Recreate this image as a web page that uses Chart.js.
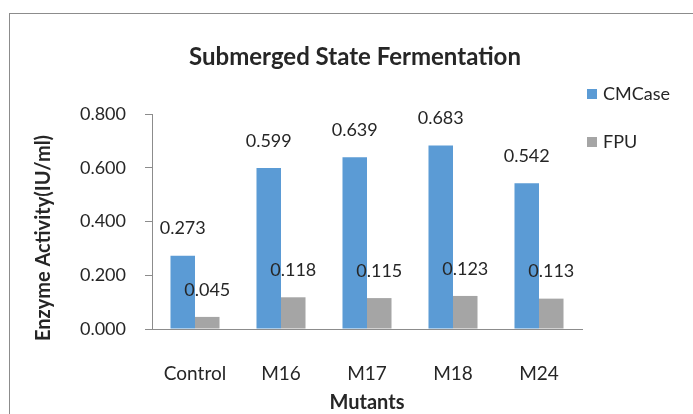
<!DOCTYPE html>
<html>
<head>
<meta charset="utf-8">
<script src="https://cdn.jsdelivr.net/npm/chart.js@4.4.1/dist/chart.umd.min.js"></script>
<style>
  html, body { margin: 0; padding: 0; background: #fff; }
  #wrap { position: relative; width: 693px; height: 414px; overflow: hidden; }
  #frame { position: absolute; left: 9px; top: 13px; width: 700px; height: 420px; border: 1px solid #8c8c8c; box-sizing: border-box; }
  canvas { position: absolute; left: 0; top: 0; }
</style>
</head>
<body>
<div id="wrap">
  <div id="frame"></div>
  <canvas id="chart" width="693" height="414"></canvas>
</div>
<script>
// Chart data
const categories = ['Control', 'M16', 'M17', 'M18', 'M24'];
const cmcase = [0.273, 0.599, 0.639, 0.683, 0.542];
const fpu = [0.045, 0.118, 0.115, 0.123, 0.113];
const yTicks = [0, 0.2, 0.4, 0.6, 0.8];

const FONT = "Lato, 'Open Sans', sans-serif";
const TEXT = '#262626';

// Title, axis titles, legend and value labels
const decorations = {
    id: 'decorations',
    afterDatasetsDraw(chart) {
        const ctx = chart.ctx;
        const area = chart.chartArea;
        ctx.save();
        ctx.fillStyle = TEXT;
        ctx.textAlign = 'center';
        ctx.textBaseline = 'middle';

        // value labels above bars
        ctx.font = '18px ' + FONT;
        chart.data.datasets.forEach((ds, i) => {
            chart.getDatasetMeta(i).data.forEach((bar, j) => {
                ctx.fillText(ds.data[j].toFixed(3), bar.x, bar.y - 27);
            });
        });

        // chart title
        ctx.font = 'bold 24px ' + FONT;
        ctx.fillText('Submerged State Fermentation', 355, 57);

        // x axis title
        ctx.font = 'bold 20px ' + FONT;
        ctx.fillText('Mutants', (area.left + area.right) / 2, 403);

        // y axis title
        ctx.save();
        ctx.translate(44, 238);
        ctx.rotate(-Math.PI / 2);
        ctx.fillText('Enzyme Activity(IU/ml)', 0, 0);
        ctx.restore();

        // legend
        ctx.textAlign = 'left';
        ctx.font = '18px ' + FONT;
        const items = [['CMCase', '#5b9bd5', 94], ['FPU', '#a5a5a5', 142]];
        items.forEach(it => {
            ctx.fillStyle = it[1];
            ctx.fillRect(587, it[2] - 5, 10, 10);
            ctx.fillStyle = TEXT;
            ctx.fillText(it[0], 603, it[2]);
        });
        ctx.restore();
    }
};

new Chart(document.getElementById('chart'), {
    type: 'bar',
    data: {
        labels: categories,
        datasets: [
            { label: 'CMCase', data: cmcase, backgroundColor: '#5b9bd5' },
            { label: 'FPU', data: fpu, backgroundColor: '#a5a5a5' }
        ]
    },
    options: {
        responsive: false,
        animation: false,
        events: [],
        layout: { padding: { left: 10, top: 114, right: 111, bottom: 0 } },
        datasets: {
            bar: { categoryPercentage: 0.57, barPercentage: 1.0 }
        },
        plugins: {
            legend: { display: false },
            title: { display: false },
            tooltip: { enabled: false }
        },
        scales: {
            x: {
                grid: { display: false },
                border: { display: true, color: '#8c8c8c', width: 1 },
                ticks: { color: TEXT, font: { family: FONT, size: 19 }, padding: 25 },
                afterFit(scale) { scale.height = 414 - 329; }
            },
            y: {
                min: 0,
                max: 0.8,
                afterBuildTicks(scale) { scale.ticks = yTicks.map(v => ({ value: v })); },
                grid: { drawOnChartArea: false, drawTicks: true, tickLength: 7, color: '#8c8c8c' },
                border: { display: true, color: '#8c8c8c', width: 1 },
                ticks: {
                    color: TEXT,
                    font: { family: FONT, size: 18 },
                    padding: 19,
                    callback: v => v.toFixed(3)
                },
                afterFit(scale) { scale.width = 142; }
            }
        }
    },
    plugins: [decorations]
});
</script>
</body>
</html>
